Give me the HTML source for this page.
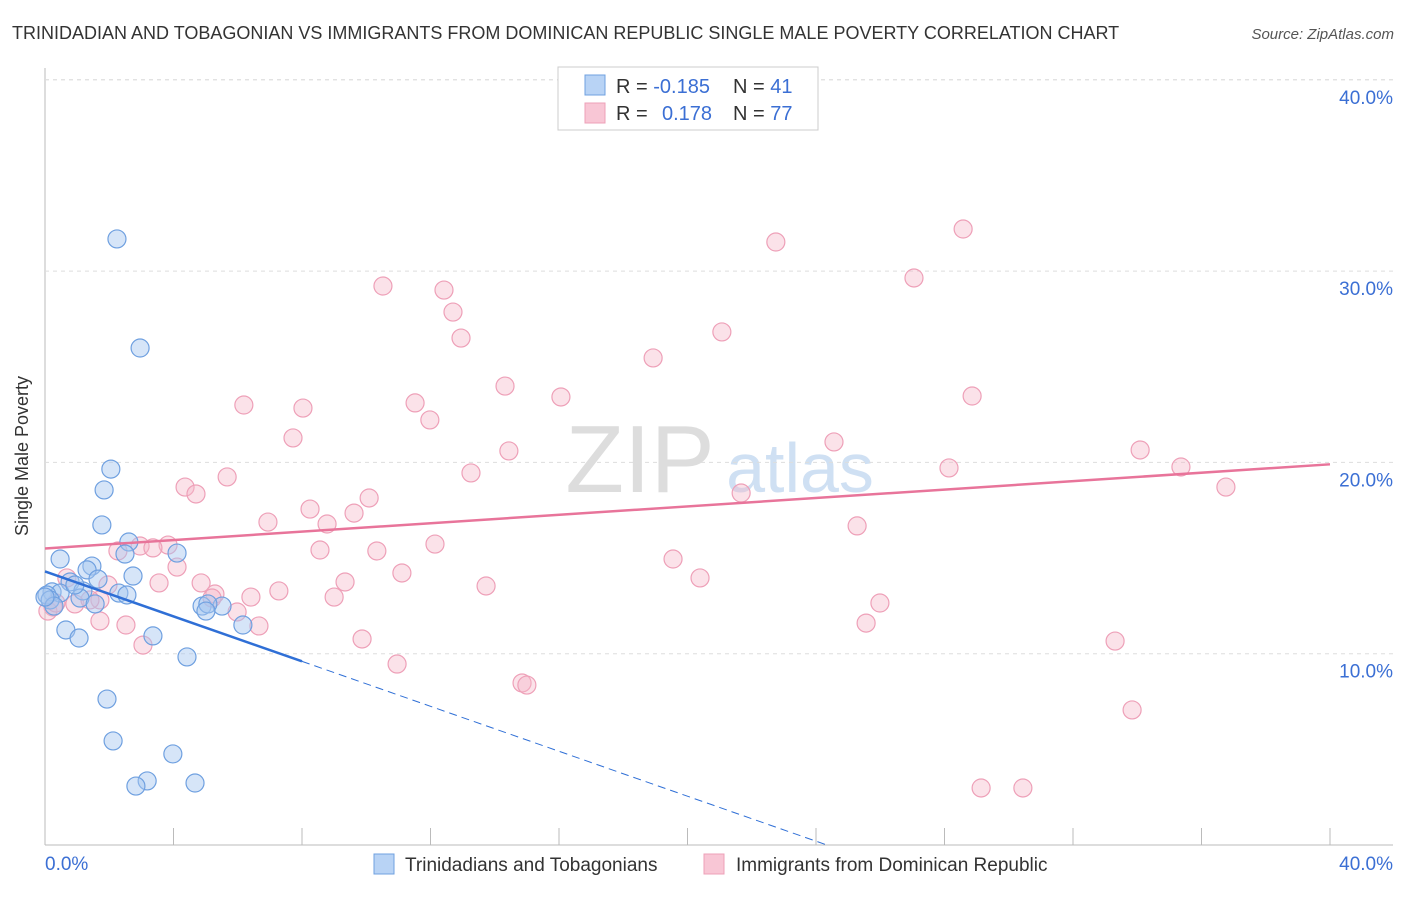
<!DOCTYPE html>
<html><head><meta charset="utf-8"><style>
body{margin:0;background:#fff;font-family:"Liberation Sans",sans-serif}
svg text{font-family:"Liberation Sans",sans-serif}
</style></head><body>
<svg id="c" width="1406" height="892" xmlns="http://www.w3.org/2000/svg">
<text x="12" y="39" font-size="18" fill="#333">TRINIDADIAN AND TOBAGONIAN VS IMMIGRANTS FROM DOMINICAN REPUBLIC SINGLE MALE POVERTY CORRELATION CHART</text>
<text x="1394" y="39" font-size="15" fill="#555" font-style="italic" text-anchor="end">Source: ZipAtlas.com</text>
<text x="28" y="456" font-size="18" fill="#333" text-anchor="middle" transform="rotate(-90 28 456)">Single Male Poverty</text>
<text x="640" y="492" font-size="96" fill="#ddd" font-family="Liberation Serif" text-anchor="middle">ZIP</text>
<text x="800" y="492" font-size="70" fill="#cfe0f3" text-anchor="middle">atlas</text>
<g id="grid"></g><g id="pts"></g><g id="lines"></g>
<g>
<rect x="558" y="67" width="260" height="63" fill="#fff" stroke="#ccc"/>
<rect x="585" y="75" width="20" height="20" fill="#b8d3f5" stroke="#6fa0e0"/>
<rect x="585" y="103" width="20" height="20" fill="#f8c6d5" stroke="#eea0b8"/>
<text x="616" y="93" font-size="20" fill="#333">R = <tspan fill="#3b6fd4">-0.185</tspan></text>
<text x="733" y="93" font-size="20" fill="#333">N = <tspan fill="#3b6fd4">41</tspan></text>
<text x="616" y="120" font-size="20" fill="#333">R = <tspan fill="#3b6fd4" x="662">0.178</tspan></text>
<text x="733" y="120" font-size="20" fill="#333">N = <tspan fill="#3b6fd4">77</tspan></text>
</g>
<g>
<rect x="374" y="854" width="20" height="20" fill="#b8d3f5" stroke="#6fa0e0"/>
<text x="405" y="871" font-size="19" fill="#333">Trinidadians and Tobagonians</text>
<rect x="704" y="854" width="20" height="20" fill="#f8c6d5" stroke="#eea0b8"/>
<text x="736" y="871" font-size="19" fill="#333">Immigrants from Dominican Republic</text>
</g>
</svg>
<script>
const yTicks=[10,20,30,40];
const xTicks=[0,4,8,12,16,20,24,28,32,36,40];
const bluePx=[[117,239],[140,348],[111,469],[104,490],[102,525],[129,542],[125,554],[177,553],[60,559],[92,566],[87,570],[133,576],[70,582],[98,579],[52,592],[60,593],[47,595],[83,591],[119,593],[127,595],[80,598],[50,600],[95,604],[202,606],[222,606],[208,604],[206,611],[66,630],[79,638],[153,636],[243,625],[187,657],[107,699],[113,741],[173,754],[147,781],[136,786],[195,783],[54,606],[45,597],[75,585]];
const pinkPx=[[963,229],[776,242],[383,286],[444,290],[914,278],[453,312],[461,338],[722,332],[653,358],[505,386],[561,397],[972,396],[244,405],[303,408],[415,403],[430,420],[293,438],[834,442],[509,451],[1140,450],[471,473],[949,468],[1181,467],[227,477],[185,487],[196,494],[741,493],[1226,487],[369,498],[354,513],[310,509],[268,522],[327,524],[857,526],[435,544],[377,551],[320,550],[118,551],[140,546],[168,545],[153,548],[177,567],[673,559],[402,573],[700,578],[486,586],[345,582],[159,583],[108,585],[201,583],[67,578],[279,591],[251,597],[215,594],[212,598],[334,597],[880,603],[100,600],[75,604],[53,607],[48,611],[237,612],[259,626],[126,625],[100,621],[866,623],[143,645],[362,639],[1115,641],[397,664],[522,683],[527,685],[1132,710],[981,788],[1023,788],[90,600],[56,603]];
// convert reference readings to data values (%)
const blueX=bluePx.map(p=>+((p[0]-45)/32.125).toFixed(2));
const blueY=bluePx.map(p=>+((845-p[1])/19.13).toFixed(2));
const pinkX=pinkPx.map(p=>+((p[0]-45)/32.125).toFixed(2));
const pinkY=pinkPx.map(p=>+((845-p[1])/19.13).toFixed(2));
const pinkTrend=[15.5,19.9];      // y at x=0 and x=40
const blueTrend=[14.3,9.6,8];     // y at x=0, y at x=8 (solid end)
const X=v=>45+v*32.125, Y=v=>845-v*19.13;
const NS="http://www.w3.org/2000/svg";
function mk(tag,attrs,parent){const e=document.createElementNS(NS,tag);for(const k in attrs)e.setAttribute(k,attrs[k]);parent.appendChild(e);return e;}
const grid=document.getElementById('grid'),pts=document.getElementById('pts'),lines=document.getElementById('lines'),svg=document.getElementById('c');
let ax=mk('line',{x1:45,y1:68,x2:45,y2:845,stroke:'#bbb'},grid);


let bx=mk('line',{x1:45,y1:845,x2:1393,y2:845,stroke:'#bbb'},grid);


yTicks.forEach(t=>{
 const g=mk('line',{x1:45,y1:Y(t),x2:1393,y2:Y(t),stroke:'#ddd','stroke-dasharray':'4,4'},grid);
 
 
 const tx=mk('text',{x:1393,y:Y(t)+24,'font-size':19,fill:'#3b6fd4','text-anchor':'end'},svg);
 tx.textContent=t.toFixed(1)+'%';
 
 
});
mk('line',{x1:45,y1:Y(40),x2:1393,y2:Y(40),stroke:'#ddd','stroke-dasharray':'4,4'},grid);
xTicks.forEach(t=>{
 const l=mk('line',{x1:X(t),y1:828,x2:X(t),y2:845,stroke:'#bbb'},grid);
 
 
});
const x0=mk('text',{x:45,y:870,'font-size':19,fill:'#3b6fd4'},svg);x0.textContent='0.0%';


const x1=mk('text',{x:1393,y:870,'font-size':19,fill:'#3b6fd4','text-anchor':'end'},svg);x1.textContent='40.0%';


pinkX.forEach((v,i)=>{
 const c=mk('circle',{cx:X(v),cy:Y(pinkY[i]),r:9,fill:'rgba(246,182,200,0.4)',stroke:'#eea0b8','stroke-width':1.2},pts);
 
 
});
blueX.forEach((v,i)=>{
 const c=mk('circle',{cx:X(v),cy:Y(blueY[i]),r:9,fill:'rgba(164,198,240,0.45)',stroke:'#6fa0e0','stroke-width':1.2},pts);
 
 
});
const pl=mk('line',{x1:X(0),y1:Y(pinkTrend[0]),x2:X(40),y2:Y(pinkTrend[1]),stroke:'#e8749a','stroke-width':2.5},lines);


const slope=(blueTrend[1]-blueTrend[0])/blueTrend[2];
const bl=mk('line',{x1:X(0),y1:Y(blueTrend[0]),x2:X(blueTrend[2]),y2:Y(blueTrend[1]),stroke:'#2f6fd6','stroke-width':2.5},lines);


const xEnd=-blueTrend[0]/slope;
const bd=mk('line',{x1:X(blueTrend[2]),y1:Y(blueTrend[1]),x2:X(xEnd),y2:Y(0),stroke:'#2f6fd6','stroke-width':1,'stroke-dasharray':'8,5'},lines);


</script>
</body></html>
